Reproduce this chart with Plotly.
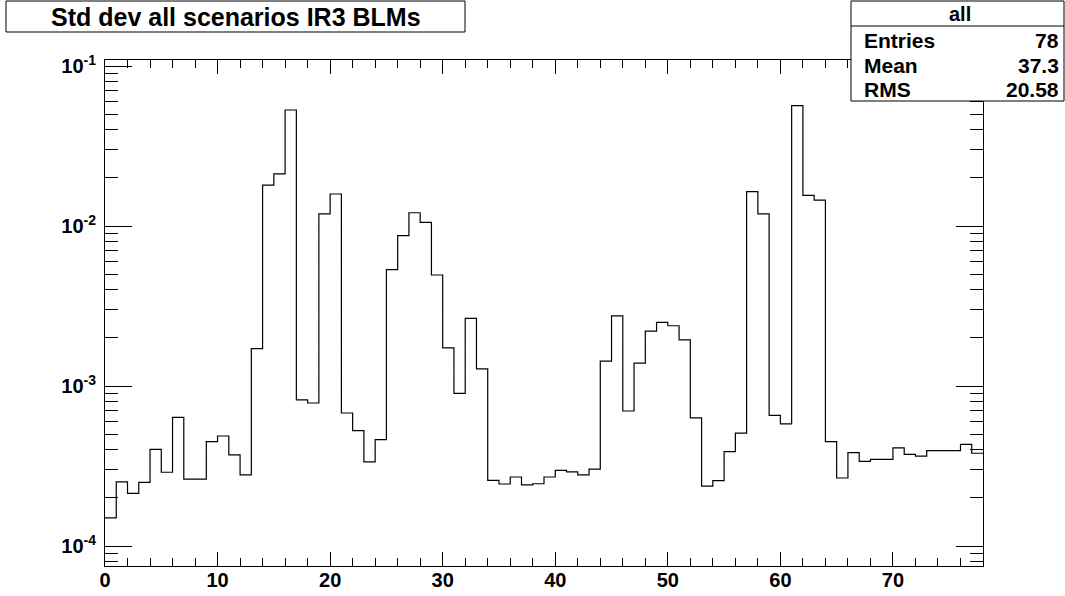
import plotly.graph_objects as go

# ---- data ----
bin_edges = list(range(0, 79))  # 78 bins from 0 to 78
values = [
    1.50e-4, 2.52e-4, 2.13e-4, 2.50e-4, 4.02e-4, 2.89e-4, 6.37e-4, 2.62e-4, 2.62e-4, 4.49e-4,
    4.87e-4, 3.71e-4, 2.78e-4, 1.71e-3, 1.80e-2, 2.12e-2, 5.31e-2, 8.18e-4, 7.83e-4, 1.19e-2,
    1.585e-2, 6.78e-4, 5.26e-4, 3.36e-4, 4.62e-4, 5.33e-3, 8.70e-3, 1.21e-2, 1.055e-2, 4.94e-3,
    1.73e-3, 9.00e-4, 2.65e-3, 1.28e-3, 2.57e-4, 2.44e-4, 2.70e-4, 2.41e-4, 2.45e-4, 2.70e-4,
    2.97e-4, 2.91e-4, 2.78e-4, 3.02e-4, 1.43e-3, 2.74e-3, 6.98e-4, 1.39e-3, 2.20e-3, 2.50e-3,
    2.38e-3, 1.94e-3, 6.33e-4, 2.37e-4, 2.56e-4, 3.89e-4, 5.08e-4, 1.64e-2, 1.19e-2, 6.56e-4,
    5.79e-4, 5.65e-2, 1.555e-2, 1.45e-2, 4.49e-4, 2.66e-4, 3.83e-4, 3.38e-4, 3.48e-4, 3.48e-4,
    4.10e-4, 3.74e-4, 3.65e-4, 3.94e-4, 3.94e-4, 3.94e-4, 4.32e-4, 3.80e-4,
]
x_tick_vals = [0, 10, 20, 30, 40, 50, 60, 70]
x_tick_text = ["0", "10", "20", "30", "40", "50", "60", "70"]
y_tick_vals = [1e-4, 1e-3, 1e-2, 1e-1]
y_tick_text = ["10<sup>-4</sup>", "10<sup>-3</sup>", "10<sup>-2</sup>", "10<sup>-1</sup>"]
title_text = "Std dev all scenarios IR3 BLMs"
stats_name = "all"
stats_labels = ["Entries", "Mean", "RMS"]
stats_values = ["78", "37.3", "20.58"]

x_minor = [v for v in range(0, 79, 2) if v % 10 != 0]
y_minor = [m * 10.0 ** e for e in range(-5, 0) for m in range(2, 10)]

FONT = "Liberation Sans"

fig = go.Figure()
fig.add_trace(go.Scatter(
    x=bin_edges,
    y=values + [values[-1]],
    mode="lines",
    line=dict(color="black", width=1.2, shape="hv"),
    hoverinfo="skip",
    showlegend=False,
))

fig.update_xaxes(
    range=[0, 78], automargin=False,
    showgrid=False, zeroline=False,
    showline=True, linecolor="black", linewidth=1, mirror="ticks",
    ticks="inside", ticklen=14, tickwidth=1, tickcolor="black",
    tickmode="array", tickvals=x_tick_vals, ticktext=x_tick_text,
    ticklabelstandoff=-4,
    tickfont=dict(family=FONT, size=20, color="black", weight="bold"),
    minor=dict(ticks="inside", ticklen=8, tickwidth=1, tickcolor="black",
               tickmode="array", tickvals=x_minor, showgrid=False),
)
fig.update_yaxes(
    type="log", automargin=False,
    range=[-4.125, -0.9625],
    showgrid=False, zeroline=False,
    showline=True, linecolor="black", linewidth=1, mirror="ticks",
    ticks="inside", ticklen=27, tickwidth=1, tickcolor="black",
    tickmode="array", tickvals=y_tick_vals, ticktext=y_tick_text,
    ticklabelstandoff=4,
    tickfont=dict(family=FONT, size=20, color="black", weight="bold"),
    minor=dict(ticks="inside", ticklen=13, tickwidth=1, tickcolor="black",
               tickmode="array", tickvals=y_minor, showgrid=False),
)

W, H = 1065, 596
L, R, T, B = 105, 983, 60, 566
pw, ph = R - L, B - T


def px(x):
    return (x - L) / pw


def py(y):
    return (B - y) / ph


shapes = [
    # title box
    dict(type="rect", xref="paper", yref="paper",
         x0=px(6), x1=px(465), y0=py(32), y1=py(1),
         line=dict(color="black", width=1), fillcolor="white", layer="above"),
    # stats box
    dict(type="rect", xref="paper", yref="paper",
         x0=px(851), x1=px(1064), y0=py(101), y1=py(1),
         line=dict(color="black", width=1), fillcolor="white", layer="above"),
    dict(type="line", xref="paper", yref="paper",
         x0=px(851), x1=px(1064), y0=py(26), y1=py(26),
         line=dict(color="black", width=1), layer="above"),
]

annotations = [
    dict(text="<b>%s</b>" % title_text, xref="paper", yref="paper",
         x=px(236), y=py(17), xanchor="center", yanchor="middle",
         showarrow=False, font=dict(family=FONT, size=25, color="black")),
    dict(text="<b>%s</b>" % stats_name, xref="paper", yref="paper",
         x=px(960), y=py(14), xanchor="center", yanchor="middle",
         showarrow=False, font=dict(family=FONT, size=20, color="black")),
]
for lab, val, yc in zip(stats_labels, stats_values, [40, 65, 89]):
    annotations.append(dict(text="<b>%s</b>" % lab, xref="paper", yref="paper",
                            x=px(862), y=py(yc), xanchor="left", yanchor="middle",
                            showarrow=False, font=dict(family=FONT, size=21, color="black")))
    annotations.append(dict(text="<b>%s</b>" % val, xref="paper", yref="paper",
                            x=px(1061), y=py(yc), xanchor="right", yanchor="middle",
                            showarrow=False, font=dict(family=FONT, size=21, color="black")))

fig.update_layout(
    width=W, height=H,
    margin=dict(l=L, r=W - R, t=T, b=H - B, pad=0, autoexpand=False),
    paper_bgcolor="white", plot_bgcolor="white",
    shapes=shapes, annotations=annotations,
    showlegend=False,
)

fig.write_html("out.html")
